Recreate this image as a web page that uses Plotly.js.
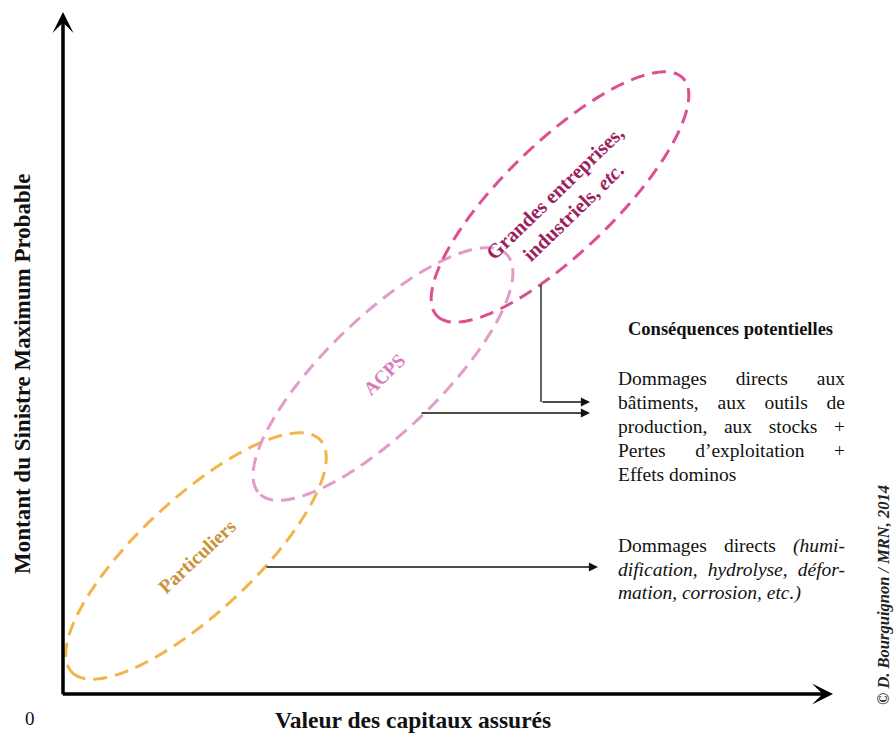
<!DOCTYPE html>
<html><head><meta charset="utf-8">
<script src="https://cdn.plot.ly/plotly-3.0.1.min.js"></script>
<style>html,body{margin:0;padding:0;background:#fff}</style>
</head><body><div id="chart" style="width:895px;height:733px"></div>
<script>
// ---- data (diagram units, origin at the axes corner) ----
const groupLabels = ['Particuliers', 'ACPS', 'Grandes entreprises,<br>industriels, <i>etc.</i>'];
const centerX = [133, 320, 497];      // Valeur des capitaux assurés
const centerY = [138, 320, 497];      // Montant du Sinistre Maximum Probable
const semiMajor = [170, 172, 171];
const semiMinor = [57, 57, 55];
const tiltDeg = [43, 44, 44];
const lineColors = ['#F2B44B', '#E49BCB', '#DD4E93'];
const labelColors = ['#C8933A', '#D67CB8', '#9C1F5F'];

const consequencesTitle = 'Conséquences potentielles';
const block1Lines = ['Dommages directs aux', 'bâtiments, aux outils de', 'production, aux stocks +', 'Pertes d’exploitation +', 'Effets dominos'];
const block2Lines = ['Dommages directs <i>(humi-</i>', '<i>dification, hydrolyse, défor-</i>', '<i>mation, corrosion, etc.)</i>'];

// connectors: [x0, y0, x1, y1]
const connectorArrows = [[202, 127, 535, 127], [357, 281, 527, 281], [478, 292, 527, 292]];
const connectorLines = [[478, 409, 478, 292]];

const X0 = -63, X1 = 832, Y0 = -39, Y1 = 694;
const serif = '"Liberation Serif", "DejaVu Serif", serif';

// ---- ellipse outlines ----
const traces = [];
for (let i = 0; i < groupLabels.length; i++) {
  const xs = [], ys = [];
  const th = tiltDeg[i] * Math.PI / 180;
  const n = 240;
  for (let k = 0; k <= n; k++) {
    const t = 2 * Math.PI * k / n + Math.PI;
    const ex = semiMajor[i] * Math.cos(t), ey = semiMinor[i] * Math.sin(t);
    xs.push(centerX[i] + ex * Math.cos(th) - ey * Math.sin(th));
    ys.push(centerY[i] + ex * Math.sin(th) + ey * Math.cos(th));
  }
  traces.push({x: xs, y: ys, mode: 'lines', hoverinfo: 'skip', showlegend: false,
    line: {color: lineColors[i], width: 3, dash: '14px,8px', shape: 'spline'}});
}

const ann = [];
// ellipse labels
const labelSizes = [19.5, 19, 20.5];
for (let i = 0; i < groupLabels.length; i++) {
  ann.push({x: centerX[i] + (i === 2 ? 4 : 1), y: centerY[i] + (i === 2 ? -5 : 0), xref: 'x', yref: 'y', showarrow: false,
    text: '<b>' + groupLabels[i] + '</b>', textangle: -tiltDeg[i],
    font: {family: serif, size: labelSizes[i], color: labelColors[i]}});
}
// axes arrows
ann.push({x: 770, y: 0, ax: -1.7, ay: 0, xref: 'x', yref: 'y', axref: 'x', ayref: 'y', text: '',
  showarrow: true, arrowhead: 3, arrowwidth: 3.5, arrowsize: 1, arrowcolor: '#000', standoff: 0});
ann.push({x: 0, y: 682, ax: 0, ay: -1.7, xref: 'x', yref: 'y', axref: 'x', ayref: 'y', text: '',
  showarrow: true, arrowhead: 3, arrowwidth: 3.5, arrowsize: 1, arrowcolor: '#000', standoff: 0});
// connector arrows
connectorArrows.forEach(c => ann.push({x: c[2], y: c[3], ax: c[0], ay: c[1], xref: 'x', yref: 'y', axref: 'x', ayref: 'y',
  text: '', showarrow: true, arrowhead: 2, arrowwidth: 1.3, arrowsize: 1.4, arrowcolor: '#111', standoff: 0}));
// axis titles
ann.push({x: -41, y: 320, xref: 'x', yref: 'y', showarrow: false, textangle: -90,
  text: '<b>Montant du Sinistre Maximum Probable</b>', font: {family: serif, size: 23, color: '#111'}});
ann.push({x: 350, y: -26, xref: 'x', yref: 'y', showarrow: false,
  text: '<b>Valeur des capitaux assurés</b>', font: {family: serif, size: 23.5, color: '#111'}});
ann.push({x: -33, y: -24, xref: 'x', yref: 'y', showarrow: false,
  text: '0', font: {family: serif, size: 19, color: '#111'}});
// copyright
ann.push({x: 820, y: 99, xref: 'x', yref: 'y', showarrow: false, textangle: -90,
  text: '<b><i>© D. Bourguignon / MRN, 2014</i></b>', font: {family: serif, size: 16.5, color: '#222'}});
// consequences
ann.push({x: 667, y: 365, xref: 'x', yref: 'y', showarrow: false,
  text: '<b>' + consequencesTitle + '</b>', font: {family: serif, size: 18.5, color: '#111'}});
const justify = [];
const leftX = 553, TARGET_W = 227;
block1Lines.forEach((t, k) => {
  if (k < block1Lines.length - 1) justify.push(ann.length);
  ann.push({x: leftX, y: 316 - 24 * k, xref: 'x', yref: 'y', showarrow: false, xanchor: 'left', align: 'left',
    text: t, font: {family: serif, size: 19.5, color: '#111'}});
});
block2Lines.forEach((t, k) => {
  if (k < block2Lines.length - 1) justify.push(ann.length);
  ann.push({x: leftX, y: 148 - 23.5 * k, xref: 'x', yref: 'y', showarrow: false, xanchor: 'left', align: 'left',
    text: t, font: {family: serif, size: 19.5, color: '#111'}});
});

const shapes = connectorLines.map(c => ({type: 'line', xref: 'x', yref: 'y', x0: c[0], y0: c[1], x1: c[2], y1: c[3],
  line: {color: '#111', width: 1.3}}));

const layout = {
  width: 895, height: 733, margin: {l: 0, r: 0, t: 0, b: 0},
  paper_bgcolor: '#fff', plot_bgcolor: '#fff', showlegend: false,
  xaxis: {range: [X0, X1], visible: false, fixedrange: true},
  yaxis: {range: [Y0, Y1], visible: false, fixedrange: true},
  annotations: ann, shapes: shapes
};

Plotly.newPlot('chart', traces, layout, {displayModeBar: false, staticPlot: true}).then(() => {
  justify.forEach(idx => {
    const g = document.querySelector('.annotation[data-index="' + idx + '"]');
    if (!g) return;
    const txt = g.querySelector('text.annotation-text');
    if (!txt) return;
    const w = txt.getComputedTextLength();
    const spaces = (txt.textContent.match(/ /g) || []).length;
    if (spaces > 0 && w < TARGET_W) {
      txt.style.wordSpacing = ((TARGET_W - w) / spaces) + 'px';
    }
  });
});
</script>
</body></html>
